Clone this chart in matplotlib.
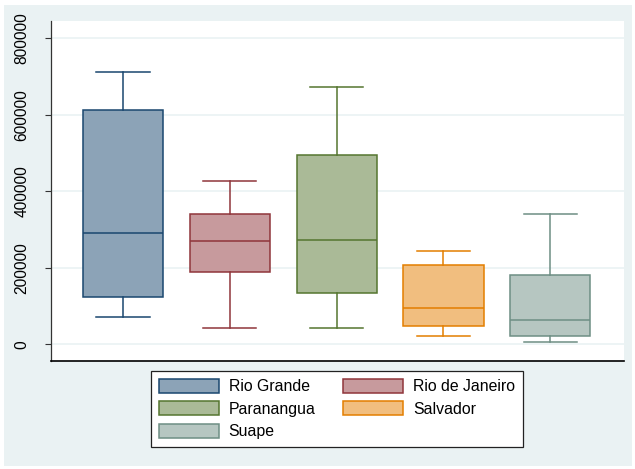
import matplotlib
matplotlib.use("Agg")
import matplotlib.pyplot as plt
from matplotlib.patches import Rectangle, Patch

plt.rcParams['font.family'] = ['Liberation Sans', 'DejaVu Sans']

# Port cargo distribution summaries (box plot statistics)
ports = ["Rio Grande", "Rio de Janeiro", "Paranangua", "Salvador", "Suape"]
whisker_low = [71000, 43500, 41700, 21700, 7000]
quartile_1 = [123000, 190000, 135000, 48700, 21700]
medians = [290000, 270000, 272000, 95700, 63400]
quartile_3 = [613000, 341000, 494000, 208000, 180000]
whisker_high = [713000, 426000, 673000, 245000, 341000]

y_ticks = [0, 200000, 400000, 600000, 800000]

edge_colors = ["#1a476f", "#90353b", "#55752f", "#e37e00", "#6e8e84"]
fill_colors = ["#8ca3b7", "#c79a9d", "#aaba97", "#f1be7f", "#b6c6c1"]

fig = plt.figure(figsize=(6.35, 4.69), dpi=100, facecolor="white")
fig.patches.append(Rectangle((4 / 635, 3 / 469), 628 / 635, 461 / 469,
                             transform=fig.transFigure, facecolor="#eaf2f3",
                             edgecolor="none", zorder=-10))

ax = fig.add_axes([51 / 635, 108 / 469, 573 / 635, 339.5 / 469])
ax.set_zorder(1)
ax.set_facecolor("white")

stats = []
for i, name in enumerate(ports):
    stats.append(dict(label=name, whislo=whisker_low[i], q1=quartile_1[i],
                      med=medians[i], q3=quartile_3[i], whishi=whisker_high[i],
                      fliers=[]))

positions = list(range(1, len(ports) + 1))
for pos, st, ec, fc in zip(positions, stats, edge_colors, fill_colors):
    ax.bxp([st], positions=[pos], widths=0.75, capwidths=0.5,
           patch_artist=True, showfliers=False, manage_ticks=False,
           boxprops=dict(facecolor=fc, edgecolor=ec, linewidth=1.1),
           medianprops=dict(color=ec, linewidth=1.1),
           whiskerprops=dict(color=ec, linewidth=1.1),
           capprops=dict(color=ec, linewidth=1.1))

ax.set_xlim(0.327, 5.69)
ax.set_ylim(-43700, 843800)
ax.set_xticks([])
ax.set_yticks(y_ticks)
ax.set_yticklabels([str(t) for t in y_ticks], rotation=90, va="center",
                   fontsize=11.2)
ax.tick_params(axis="y", length=4.5, width=0.8, color="#333333", pad=11)
ax.grid(axis="y", color="#eaf2f3", linewidth=1.2)
ax.set_axisbelow(True)

for side in ("top", "right"):
    ax.spines[side].set_visible(False)
ax.spines["left"].set_color("#333333")
ax.spines["left"].set_linewidth(0.9)
ax.spines["bottom"].set_color("#000000")
ax.spines["bottom"].set_linewidth(1.2)

# legend entries run row by row: order them for column-major filling
handles = [Patch(facecolor=fc, edgecolor=ec, linewidth=1.1)
           for fc, ec in zip(fill_colors, edge_colors)]
order = [0, 2, 4, 1, 3]
leg = fig.legend([handles[i] for i in order], [ports[i] for i in order],
                 ncol=2, loc="center",
                 bbox_to_anchor=(337 / 635, 1 - 409 / 469),
                 fontsize=11.4, frameon=True, fancybox=False, framealpha=1,
                 handlelength=3.8, handleheight=1.0, handletextpad=0.63,
                 columnspacing=1.75, labelspacing=0.45, borderpad=0.45,
                 borderaxespad=0)
leg.get_frame().set_edgecolor("#222222")
leg.get_frame().set_linewidth(0.9)
leg.get_frame().set_facecolor("white")

fig.savefig("out.png", dpi=100, facecolor="white")
